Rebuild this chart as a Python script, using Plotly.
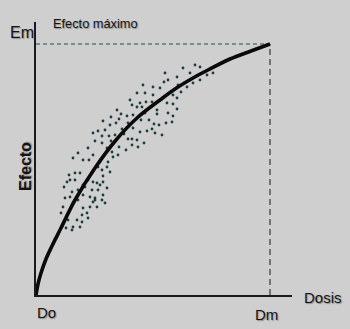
import plotly.graph_objects as go

# Dose-response curve (arbitrary units: Do = 0, Dm = 234, Em = 251)
DM = 234
EM = 251
X_MAX = 256   # end of the dose axis
Y_MAX = 273   # top of the effect axis
curve_dose = [0, 2, 5, 10, 16, 25, 39, 59, 80, 101, 124, 139, 157, 172, 194, 215, 234]
curve_effect = [0, 11, 22, 36, 49, 67, 95, 127, 155, 177, 195, 206, 217, 225, 236, 244, 251]

# Scattered individual observations around the curve
dots_dose = [81, 96, 101, 106, 110, 104, 131, 137, 141, 121, 121, 132, 137, 85, 91, 97, 75, 83,
             74, 80, 105, 113, 118, 123, 130, 136, 67, 57, 62, 69, 73, 79, 86, 88, 92, 96, 101,
             104, 111, 116, 119, 108, 102, 96, 90, 83, 75, 66, 52, 59, 66, 71, 76, 77, 82, 72,
             71, 74, 67, 64, 62, 67, 66, 61, 57, 54, 47, 42, 37, 34, 29, 27, 25, 32, 37, 41, 46,
             51, 47, 54, 59, 56, 57, 52, 47, 42, 36, 31, 28, 34, 39, 39, 44, 33, 37, 42, 47, 53,
             57, 62, 66, 64, 30, 36, 44, 49, 61, 67,
             107, 117, 124, 129, 132, 141, 142, 101, 109, 117, 94, 116, 109, 92, 97, 126,
             147, 159, 164, 177, 154, 128, 151, 164, 137, 141, 171, 157, 145,
             69, 71, 46, 52, 59]
dots_effect = [185, 190, 188, 188, 193, 192, 192, 191, 186, 185, 181, 182, 179, 181, 179, 180, 178, 176,
               170, 172, 175, 175, 171, 170, 172, 173, 174, 162, 164, 165, 159, 160, 166, 161, 156, 156, 155,
               163, 164, 166, 162, 152, 148, 150, 145, 148, 154, 159, 147, 154, 152, 147, 143, 138, 140, 133,
               128, 123, 119, 110, 105, 100, 95, 88, 93, 98, 100, 95, 92, 98, 97, 88, 82, 75, 68, 75, 73,
               82, 87, 88, 95, 105, 113, 115, 110, 105, 103, 113, 108, 115, 115, 122, 122, 120, 137, 142, 135, 135,
               140, 128, 125, 133, 67, 65, 68, 108, 112, 113,
               210, 208, 207, 222, 215, 218, 210, 202, 202, 200, 195, 193, 182, 172, 167, 160,
               227, 230, 228, 222, 222, 213, 208, 215, 200, 197, 220, 212, 203,
               92, 107, 80, 77, 97]

BG = "#cfcfcf"
INK = "#141414"
shadow = "1px 1px 1px rgba(90,90,90,0.55)"

fig = go.Figure()

# Reference lines for maximum effect / maximum dose
fig.add_trace(go.Scatter(x=[0, DM], y=[EM, EM], mode="lines",
                         line=dict(color="#5f7a7a", width=1.5, dash="4px,3px"),
                         hoverinfo="skip", showlegend=False))
fig.add_trace(go.Scatter(x=[DM, DM], y=[0, EM], mode="lines",
                         line=dict(color="#3a4848", width=1.3, dash="6px,4px"),
                         hoverinfo="skip", showlegend=False))

fig.add_trace(go.Scatter(x=dots_dose, y=dots_effect, mode="markers",
                         marker=dict(color="#1f3c3c", size=2.8),
                         hoverinfo="skip", showlegend=False))

fig.add_trace(go.Scatter(x=curve_dose, y=curve_effect, mode="lines",
                         line=dict(color="#0a0a0a", width=3.6, shape="spline", smoothing=1.0),
                         hoverinfo="skip", showlegend=False))

font_base = dict(family="Liberation Sans, Arial, sans-serif", color=INK, shadow=shadow)


def ann(text, x, y, size, xanchor="center", **kw):
    # positions given in the axis units, converted to paper fractions
    return dict(text=text, x=x / X_MAX, y=y / Y_MAX, xref="paper", yref="paper",
                xanchor=xanchor, yanchor="middle", showarrow=False,
                font=dict(size=size, **font_base), **kw)


annotations = [
    ann("Em", -14.5, 262.5, 16),
    ann("Efecto máximo", 15, 271, 12.8, xanchor="left"),
    ann("<b>Efecto</b>", -11, 128, 16, textangle=-90),
    ann("Dosis", 266, -2, 15, xanchor="left"),
    ann("Do", -1, -17, 15, xanchor="left"),
    ann("Dm", 230.5, -19, 15),
]

fig.update_layout(
    width=350, height=329,
    margin=dict(l=36, r=58, t=22, b=34),
    paper_bgcolor=BG, plot_bgcolor=BG,
    annotations=annotations,
    xaxis=dict(range=[0, X_MAX], showgrid=False, zeroline=False, showticklabels=False,
               ticks="", showline=True, linecolor="#1a1a1a", linewidth=1.6, fixedrange=True),
    yaxis=dict(range=[0, Y_MAX], showgrid=False, zeroline=False, showticklabels=False,
               ticks="", showline=True, linecolor="#1a1a1a", linewidth=2, fixedrange=True),
)

fig.write_html("out.html")
